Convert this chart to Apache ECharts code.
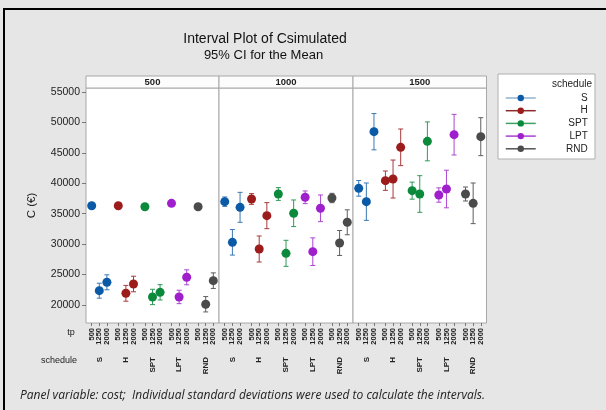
<!DOCTYPE html>
<html>
<head>
<meta charset="utf-8">
<script src="https://cdn.jsdelivr.net/npm/echarts@6/dist/echarts.min.js"></script>
<style>
html,body{margin:0;padding:0;background:#e6e6e6;}
#chart{width:606px;height:410px;}
</style>
</head>
<body>
<div id="chart"></div>
<script>
// ---- data ----
const panels = ['500', '1000', '1500'];           // panel variable: cost
const schedules = ['S', 'H', 'SPT', 'LPT', 'RND'];
const tpLevels = ['500', '1250', '2000'];
const yTicks = [20000, 25000, 30000, 35000, 40000, 45000, 50000, 55000];

// means: per schedule, [cost500: tp500,1250,2000 | cost1000: ... | cost1500: ...]
const meanS   = [36300, 22350, 23730, 36980, 30300, 36050, 39170, 36980, 48480];
const meanH   = [36300, 21920, 23450, 37420, 29200, 34680, 40430, 40700, 45910];
const meanSPT = [36150, 21320, 22080, 38240, 28490, 35070, 38790, 38240, 46890];
const meanLPT = [36710, 21320, 24550, 37700, 28760, 35890, 38070, 39060, 47990];
const meanRND = [36150, 20120, 24000, 37580, 30190, 33590, 38240, 36710, 47660];

// 95% CI half widths
const ciS   = [150, 1230, 1230, 770, 2100, 2460, 1290, 3070, 2980];
const ciH   = [150, 1300, 1280, 880, 2140, 2140, 1590, 3120, 3010];
const ciSPT = [150, 1260, 1260, 1050, 2140, 2190, 1400, 3010, 3200];
const ciLPT = [150, 1100, 1230, 1040, 2270, 2190, 1180, 3090, 3340];
const ciRND = [150, 1260, 1280, 770, 2050, 2050, 1150, 3340, 3120];

const means = [meanS, meanH, meanSPT, meanLPT, meanRND];
const cis = [ciS, ciH, ciSPT, ciLPT, ciRND];

// ---- styles ----
const colors = ['#0a5aa8', '#9c1b1b', '#0b8a3c', '#a01fcc', '#4b4b4b'];
const barColors = ['#3a78b4', '#a83a3a', '#2e9a55', '#ad45d3', '#5e5e5e'];
const legendLineColors = ['#8fb3cf', '#8e2a2a', '#3ea362', '#ab3fd2', '#555555'];

// slots along each panel's x axis (groups separated by a half-slot gap)
const nSlots = 35;
const categories = [];
for (let i = 0; i < nSlots; i++) categories.push(String(i));
const slotOf = (s, t) => 7 * s + 2 * t + 1;
const tpLabelAt = {};
const schedLabelAt = {};
schedules.forEach((sname, s) => {
  tpLevels.forEach((tp, t) => { tpLabelAt[slotOf(s, t)] = tp; });
  schedLabelAt[slotOf(s, 1)] = sname;
});

const gridLeft = [86, 219, 353];
const gridWidth = [133, 134, 133.5];
const gridTop = 88, gridHeight = 235;
const FONT = 'Liberation Sans';
const AX_PER_GRID = 4;

const grids = [], xAxes = [], yAxes = [], series = [];
panels.forEach((pname, p) => {
  grids.push({left: gridLeft[p], top: gridTop, width: gridWidth[p], height: gridHeight,
    show: true, backgroundColor: '#ffffff', borderColor: '#a8a8a8', borderWidth: 1});
  // one label axis per tp level (so neighbouring labels never collide)
  tpLevels.forEach((tp, t) => {
    const isTp = (i) => tpLabelAt[i] !== undefined && (i - 1) % 7 === 2 * t;
    xAxes.push({
      type: 'category', gridIndex: p, data: categories, position: 'bottom',
      axisLine: {show: false},
      axisTick: {show: t === 0, alignWithLabel: true, length: 3,
        interval: (i) => tpLabelAt[i] !== undefined, lineStyle: {color: '#777'}},
      axisLabel: {show: true, rotate: 90, margin: 5, fontSize: 7.5, fontWeight: 'bold',
        fontFamily: FONT, color: '#222', hideOverlap: false,
        interval: isTp,
        formatter: (v, i) => tpLabelAt[i] || ''},
      splitLine: {show: false}
    });
  });
  xAxes.push({
    type: 'category', gridIndex: p, data: categories, position: 'bottom',
    axisLine: {show: false}, axisTick: {show: false},
    axisLabel: {show: true, rotate: 90, margin: 34, fontSize: 8, fontWeight: 'bold',
      fontFamily: FONT, color: '#222', hideOverlap: false,
      interval: (i) => schedLabelAt[i] !== undefined,
      formatter: (v, i) => schedLabelAt[i] || ''},
    splitLine: {show: false}
  });
  yAxes.push({
    type: 'value', gridIndex: p, min: 17040, max: 55660,
    axisLine: {show: false},
    axisTick: {show: p === 0, length: 4, customValues: yTicks, lineStyle: {color: '#777'}},
    axisLabel: {show: p === 0, customValues: yTicks, fontSize: 10.5, fontFamily: FONT,
      color: '#222', margin: 6, formatter: (v) => String(Math.round(v))},
    splitLine: {show: false},
    name: p === 0 ? 'C (€)' : '', nameLocation: 'middle', nameGap: 48,
    nameTextStyle: {fontSize: 11.5, fontFamily: FONT, color: '#222'}
  });
  schedules.forEach((sname, s) => {
    const barData = [], ptData = [];
    tpLevels.forEach((tp, t) => {
      const k = 3 * p + t;
      barData.push([slotOf(s, t), means[s][k], cis[s][k]]);
      ptData.push([slotOf(s, t), means[s][k]]);
    });
    series.push({
      type: 'line', name: sname, xAxisIndex: AX_PER_GRID * p, yAxisIndex: p, z: 3,
      data: ptData, symbol: 'circle', symbolSize: 9, showSymbol: true, showAllSymbol: true,
      lineStyle: {width: 0, opacity: 0},
      itemStyle: {color: colors[s]}, emphasis: {disabled: true}
    });
    series.push({
      type: 'custom', name: sname, xAxisIndex: AX_PER_GRID * p, yAxisIndex: p, z: 2,
      data: barData, silent: true,
      renderItem: (params, api) => {
        const x = api.value(0), m = api.value(1), c = api.value(2);
        const top = api.coord([x, m + c]);
        const bot = api.coord([x, m - c]);
        const hw = 2.5;
        const st = {stroke: barColors[s], lineWidth: 1};
        return {type: 'group', children: [
          {type: 'line', shape: {x1: top[0], y1: top[1], x2: bot[0], y2: bot[1]}, style: st},
          {type: 'line', shape: {x1: top[0] - hw, y1: top[1], x2: top[0] + hw, y2: top[1]}, style: st},
          {type: 'line', shape: {x1: bot[0] - hw, y1: bot[1], x2: bot[0] + hw, y2: bot[1]}, style: st}
        ]};
      }
    });
  });
});

const graphics = [
  {type: 'rect', shape: {x: 4, y: 9, width: 700, height: 500},
    style: {fill: 'none', stroke: '#000', lineWidth: 2}, z: 10},
  {type: 'rect', shape: {x: 498, y: 74, width: 97, height: 85},
    style: {fill: '#ffffff', stroke: '#b0b0b0', lineWidth: 1}, z: 0},
  {type: 'text', x: 71, y: 333, style: {text: 'tp', fontSize: 9, fontFamily: FONT,
    fill: '#222', align: 'center', verticalAlign: 'middle'}},
  {type: 'text', x: 77, y: 361, style: {text: 'schedule', fontSize: 9, fontFamily: FONT,
    fill: '#222', align: 'right', verticalAlign: 'middle'}},
  {type: 'text', x: 20, y: 396, style: {text: 'Panel variable: cost;  Individual standard deviations were used to calculate the intervals.',
    fontSize: 12, fontStyle: 'italic', fontFamily: 'Open Sans', fill: '#222', align: 'left', verticalAlign: 'middle'}}
];
panels.forEach((pname, p) => {
  graphics.push({type: 'rect', shape: {x: gridLeft[p], y: 76, width: gridWidth[p], height: 12},
    style: {fill: '#fcfcfc', stroke: '#a8a8a8', lineWidth: 1}});
  graphics.push({type: 'text', x: gridLeft[p] + gridWidth[p] / 2, y: 82,
    style: {text: pname, fontSize: 9.5, fontWeight: 'bold', fontFamily: FONT, fill: '#222',
      align: 'center', verticalAlign: 'middle'}});
});

const chart = echarts.init(document.getElementById('chart'), null, {renderer: 'canvas'});
chart.setOption({
  backgroundColor: '#e6e6e6',
  animation: false,
  title: [
    {text: 'Interval Plot of Csimulated', left: 260, top: 27, textAlign: 'center',
      textStyle: {fontSize: 14, fontWeight: 'normal', fontFamily: FONT, color: '#111'}},
    {text: '95% CI for the Mean', left: 258.5, top: 44, textAlign: 'center',
      textStyle: {fontSize: 13, fontWeight: 'normal', fontFamily: FONT, color: '#111'}},
    {text: 'schedule', left: 587, top: 74, textAlign: 'right',
      textStyle: {fontSize: 10, fontWeight: 'normal', fontFamily: FONT, color: '#222'}}
  ],
  legend: {
    orient: 'vertical', left: 505, top: 92, itemWidth: 30, itemHeight: 8, itemGap: 0.7,
    padding: 0, selectedMode: false,
    formatter: '{a|{name}}',
    textStyle: {fontFamily: FONT, fontSize: 10, color: '#222', lineHeight: 12,
      rich: {a: {width: 47, align: 'right', fontSize: 10, lineHeight: 12, fontFamily: FONT, color: '#222'}}},
    data: schedules.map((n, i) => ({name: n, itemStyle: {color: colors[i]},
      lineStyle: {color: legendLineColors[i], width: 1.5, opacity: 1, type: 'solid'}}))
  },
  grid: grids, xAxis: xAxes, yAxis: yAxes, series: series,
  graphic: graphics
});
</script>
</body>
</html>
